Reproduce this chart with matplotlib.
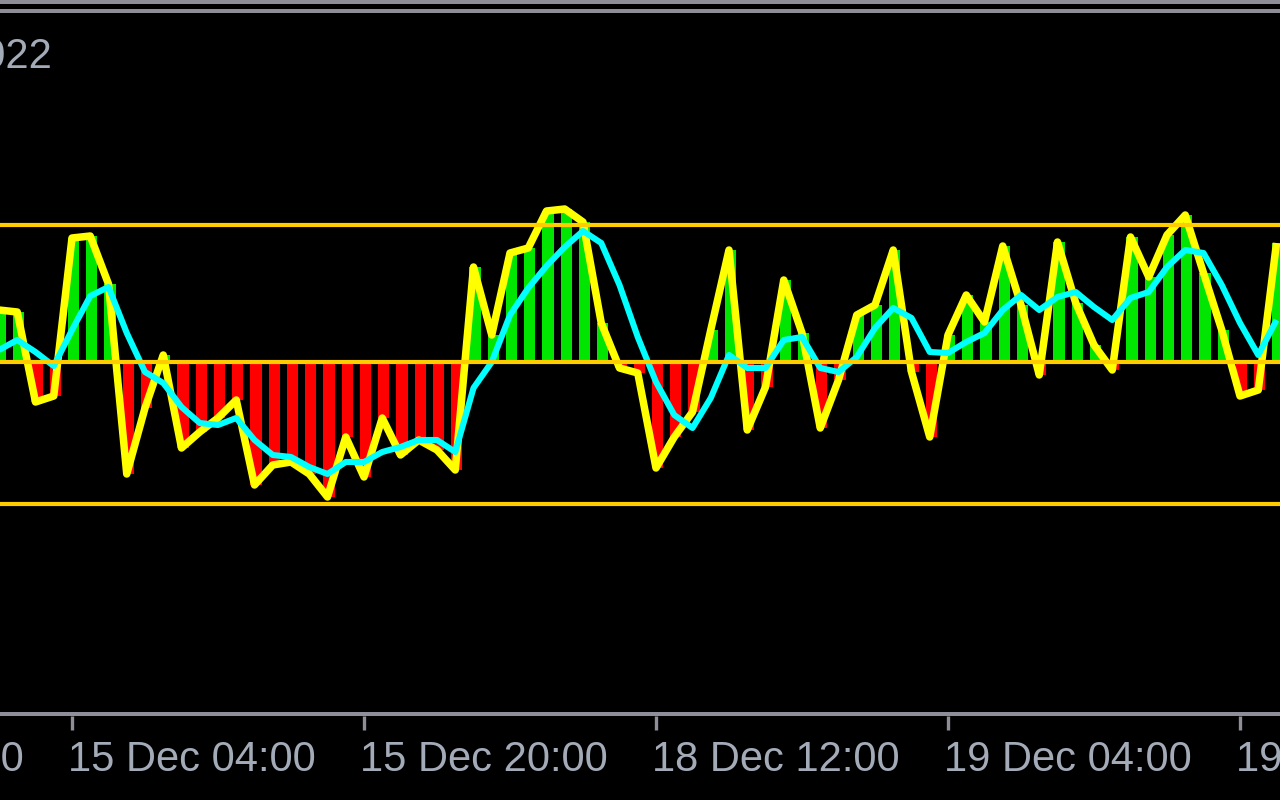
import numpy as np
import matplotlib
matplotlib.use("Agg")
import matplotlib.pyplot as plt

# ---------------- data (oscillator units, zero line = 0) ----------------
bars = list(range(71))
main_line = [52, 50, -40, -34, 124, 126, 78, -112, -46, 7,
             -86, -70, -56, -38, -123, -103, -100, -112, -135, -75,
             -115, -56, -93, -78, -88, -108, 95, 27, 109, 114,
             151, 153, 140, 39, -6, -11, -106, -75, -50, 32,
             112, -68, -25, 82, 29, -66, -18, 47, 57, 112,
             -10, -75, 27, 67, 40, 116, 57, -13, 120, 59,
             17, -8, 125, 85, 127, 147, 89, 32, -34, -28,
             119]
signal_line = [12, 22, 10, -4, 32, 66, 75, 29, -10, -21,
               -45, -61, -63, -56, -78, -93, -95, -105, -112, -100,
               -100, -90, -85, -78, -78, -90, -26, 0, 47, 74,
               96, 115, 131, 119, 77, 25, -20, -53, -66, -36,
               7, -6, -6, 22, 25, -6, -10, 5, 34, 54,
               44, 10, 9, 20, 29, 52, 67, 52, 65, 70,
               55, 42, 64, 70, 95, 112, 109, 77, 39, 7,
               42]
histogram = [52, 50, -40, -34, 124, 126, 78, -112, -46, 7,
             -86, -70, -56, -38, -123, -103, -100, -112, -135, -75,
             -115, -56, -93, -78, -88, -108, 95, 27, 109, 114,
             151, 153, 140, 39, -6, -11, -106, -75, -50, 32,
             112, -68, -25, 82, 29, -66, -18, 47, 57, 112,
             -10, -75, 27, 67, 40, 116, 57, -13, 120, 59,
             17, -8, 125, 85, 127, 147, 89, 32, -34, -28,
             119]
levels = [137, 0, -142]
tick_bars = [-12, 4, 20, 36, 52, 68]
tick_labels = ["14 Dec 12:00", "15 Dec 04:00", "15 Dec 20:00",
               "18 Dec 12:00", "19 Dec 04:00", "19 Dec 20:00"]
corner_text = "2022"

# ---------------- style ----------------
BG = "black"
YELLOW = "#FFFF00"
CYAN = "#00FFFF"
GREEN = "#00E600"
RED = "#FF0000"
LEVEL = "#FFCC00"
GRAY = "#8E8E98"
TEXT = "#A4ABB8"
FONT = ["Liberation Sans", "DejaVu Sans"]

W, H = 1280, 800
PX_PER_BAR = 18.25
REF_BAR, REF_PX = 4, 72.0
ZERO_PX = 362.0


def px2x(px):
    return REF_BAR + (px - REF_PX) / PX_PER_BAR


def py2y(py):
    return ZERO_PX - py


fig = plt.figure(figsize=(W / 100, H / 100), dpi=100, facecolor=BG)
ax = fig.add_axes([0, 0, 1, 1])
ax.set_facecolor(BG)
ax.set_xlim(px2x(0), px2x(W))
ax.set_ylim(py2y(H), py2y(0))
ax.axis("off")

x = np.array(bars, dtype=float)
hist = np.array(histogram, dtype=float)
colors = [GREEN if v >= 0 else RED for v in hist]
ax.bar(x + 0.08, hist, width=0.62, bottom=0, color=colors, linewidth=0,
       zorder=1, antialiased=False)

ax.plot(x, main_line, color=YELLOW, lw=5.4, zorder=2,
        solid_joinstyle="round", solid_capstyle="butt")
ax.plot(x, signal_line, color=CYAN, lw=4.4, zorder=3,
        solid_joinstyle="round", solid_capstyle="butt")

for lv in levels:
    ax.axhline(lv, color=LEVEL, lw=3.0, zorder=4)

# top border bands
ax.axhspan(py2y(4), py2y(0), color=GRAY, lw=0, zorder=5)
ax.axhspan(py2y(13), py2y(9), color=GRAY, lw=0, zorder=5)

# bottom time axis
ax.axhspan(py2y(716), py2y(712), color=GRAY, lw=0, zorder=5)
for b, lab in zip(tick_bars, tick_labels):
    ax.plot([b, b], [py2y(716), py2y(730)], color=GRAY, lw=2.4,
            solid_capstyle="butt", zorder=5, clip_on=False)
    ax.text(b - 4 / PX_PER_BAR, py2y(771), lab, ha="left", va="baseline",
            fontsize=30, color=TEXT, family=FONT, zorder=6)

ax.text(px2x(53), py2y(68), corner_text, ha="right", va="baseline",
        fontsize=30, color=TEXT, family=FONT, zorder=6)

fig.savefig("out.png", dpi=100, facecolor=BG)
